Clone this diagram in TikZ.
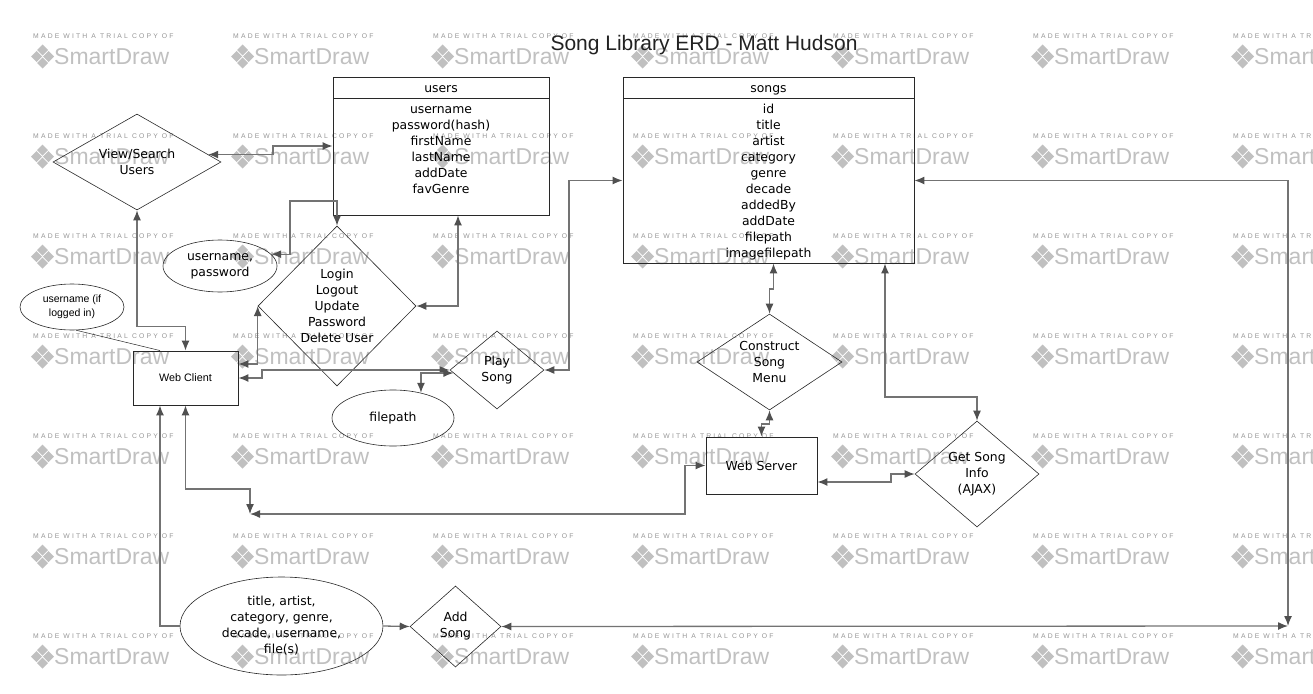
\documentclass[tikz,border=0pt]{standalone}
\usepackage{fontspec}
\setmainfont{DejaVu Sans}
\newfontfamily\headfont{Liberation Sans}
\usetikzlibrary{arrows.meta,shapes.geometric}

\definecolor{linkgray}{RGB}{115,115,115}
\definecolor{tipgray}{RGB}{80,80,80}
\definecolor{shapeline}{RGB}{40,40,40}
\definecolor{stampgray}{RGB}{192,192,192}
\definecolor{stampink}{RGB}{150,150,150}

\begin{document}
\begin{tikzpicture}[x=1pt,y=-1pt,font=\fontsize{12.4}{16}\selectfont]
\tikzset{entity/.style = {rectangle,draw=shapeline,line width=0.9pt,inner sep=0pt}}
\tikzset{field/.style = {inner sep=0pt,text height=9pt,text depth=3pt}}
\tikzset{heading/.style = {entity,text height=12pt,text depth=2pt}}
\tikzset{relation/.style 2 args = {diamond,draw=shapeline,line width=0.6pt,inner sep=0pt,minimum width=#1,minimum height=#2}}
\tikzset{attribute/.style 2 args = {ellipse,draw=shapeline,line width=0.6pt,inner sep=0pt,align=center,minimum width=#1,minimum height=#2}}
\tikzset{link/.style = {draw=linkgray,line width=1.3pt,<->,> = {Latex[length=10pt,width=8pt,color=tipgray]}}}
\tikzset{stampnote/.style = {anchor=west,inner sep=0pt,text=stampink,font=\headfont\fontsize{6.8}{7}\selectfont\addfontfeature{LetterSpace=32}}}
\tikzset{stampmark/.style = {anchor=west,inner sep=0pt,text=stampgray,font=\headfont\fontsize{23}{24}\selectfont}}
\useasboundingbox (0,0) rectangle (1313,693);
% watermark
\begin{scope}
\clip (0,0) rectangle (1313,693);
\foreach \col in {0,...,6}
  \foreach \row in {0,...,6}
  {
    \node[stampnote] (note\col\row) at (33+200*\col,36+100*\row) {MADE WITH A TRIAL COPY OF};
    \node[stampmark] (mark\col\row) at (54+200*\col,57+100*\row) {SmartDraw};
    \foreach \dx/\dy in {0/-6.5,-6/0,6/0,0/6.5}
      \fill[stampgray] (42.5+200*\col+\dx,56.5+100*\row+\dy) +(-5.5,0) -- +(0,-5.5) -- +(5.5,0) -- +(0,5.5) -- cycle;
  }
\end{scope}
% title
\node[inner sep=0pt,font=\headfont\fontsize{21}{24}\selectfont,text={rgb,255:red,34;green,34;blue,34}] (title) at (704,45) {Song Library ERD - Matt Hudson};
% tables
\node[heading,minimum width=216,minimum height=21] (usershead) at (441,87.5) {users};
\node[entity,minimum width=216,minimum height=117] (users) at (441,156.5) {};
\foreach \f [count=\i] in {username,password(hash),firstName,lastName,addDate,favGenre}
  \node[field] (userfield\i) at (441,94+16*\i) {\f};
\node[heading,minimum width=291,minimum height=21] (songshead) at (768.5,87.5) {songs};
\node[entity,minimum width=291,minimum height=165] (songs) at (768.5,180.5) {};
\foreach \f [count=\i] in {id,title,artist,category,genre,decade,addedBy,addDate,filepath,imagefilepath}
  \node[field] (songfield\i) at (768.5,94+16*\i) {\f};
% processes
\node[relation={168}{96},label={[align=center,inner sep=0pt]center:{View/Search\\Users}}] (viewusers) at (137,162) {};
\node[relation={158}{160},label={[align=center,inner sep=0pt]center:{Login\\Logout\\Update\\Password\\Delete User}}] (login) at (337,306) {};
\node[relation={94}{78},label={[align=center,inner sep=0pt]center:{Play\\Song}}] (playsong) at (497,370) {};
\node[relation={145}{96},label={[align=center,inner sep=0pt]center:{Construct\\Song\\Menu}}] (songmenu) at (769.5,362) {};
\node[relation={124}{106},label={[align=center,inner sep=0pt]center:{Get Song\\Info\\(AJAX)}}] (songinfo) at (977,474) {};
\node[relation={91}{81},label={[align=center,inner sep=0pt]center:{Add\\Song}}] (addsong) at (455.5,626.5) {};
% clients
\node[entity,minimum width=105,minimum height=54,font=\headfont\fontsize{10.8}{13}\selectfont] (client) at (185.5,378) {Web Client};
\node[entity,minimum width=111,minimum height=57] (server) at (761.5,465.5) {Web Server};
% data
\node[attribute={114}{52}] (credentials) at (220,266) {username,\\password};
\node[attribute={104}{46},font=\headfont\fontsize{10.5}{14}\selectfont] (loggedin) at (72,307) {username (if\\logged in)};
\node[attribute={122}{56}] (filepath) at (393,418) {filepath};
\node[attribute={203}{98}] (songdata) at (281.5,626) {title, artist,\\category, genre,\\decade, username,\\file(s)};
\coordinate (hub) at (250,514);
\coordinate (corner) at (1288,626);
%edges
\draw[link] (viewusers.6) -| (273,146) -- ([yshift=10.5pt]users.west);
\draw[link] (viewusers.south) |- ([yshift=24pt]client.north) -- (client.north);
\draw[draw=shapeline,line width=0.5pt] (loggedin.-80) -- ([xshift=-25.5pt]client.north);
\draw[link] (credentials.13) -| (290,201) -| (login.north);
\draw[link] ([xshift=17pt]users.south) |- (login.east);
\draw[link] ([yshift=14pt]client.east) -| (login.west);
\draw[link] (client.east) -- (262,378) |- (playsong.west);
\draw[link] (playsong.184) -| (filepath.42);
\draw[link] (playsong.east) -- (569,370) |- (songs.west);
\draw[link] ([xshift=5pt]songs.south) -- (773.5,289) -| (songmenu.north);
\draw[link] (songmenu.south) -- (769.5,424) -| (server.north);
\draw[link] ([xshift=116.5pt]songs.south) -- (885,397) -| (songinfo.north);
\draw[link] ([yshift=-16.5pt]server.east) -- (891,482) |- (songinfo.west);
\draw[link] (client.south) |- ([yshift=25pt]hub) -- (hub);
\draw[link] (server.west) -- (685,465.5) |- (hub);
\draw[link,<-] ([xshift=-25.5pt]client.south) |- (songdata.west);
\draw[link,->] (songdata.east) -- (addsong.west);
\draw[link] (songs.east) -| (corner);
\draw[link] (addsong.east) -- (corner);
\end{tikzpicture}
\end{document}
